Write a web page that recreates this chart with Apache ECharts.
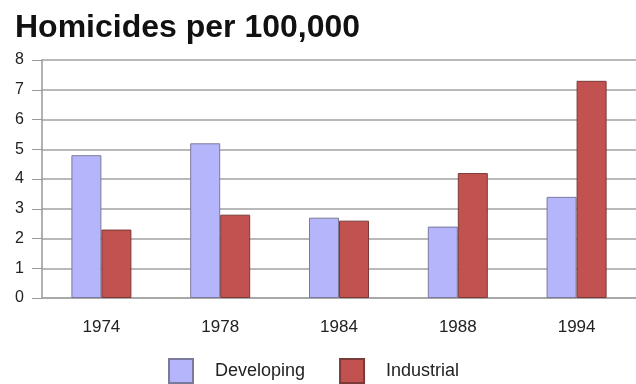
<!DOCTYPE html>
<html>
<head>
<meta charset="utf-8">
<script src="https://cdn.jsdelivr.net/npm/echarts@6/dist/echarts.min.js"></script>
<style>
  html, body { margin: 0; padding: 0; background: #ffffff; }
  #chart { width: 636px; height: 384px; }
</style>
</head>
<body>
<div id="chart"></div>
<script>
// Homicide rates per 100,000 people, by survey year
var years = ['1974', '1978', '1984', '1988', '1994'];
var developing = [4.8, 5.2, 2.7, 2.4, 3.4];
var industrial = [2.3, 2.8, 2.6, 4.2, 7.3];
var yTicks = { min: 0, max: 8, interval: 1 };

var font = '"Liberation Sans", Arial, sans-serif';
var gridGray = '#a2a2a2';

var chart = echarts.init(document.getElementById('chart'), null, { renderer: 'canvas' });
chart.setOption({
  animation: false,
  backgroundColor: '#ffffff',
  title: {
    text: 'Homicides per 100,000',
    left: 10,
    top: 7,
    textStyle: { fontFamily: font, fontSize: 32, fontWeight: 'bold', color: '#111111' }
  },
  legend: {
    data: ['Developing', 'Industrial'],
    left: 168,
    top: 358,
    padding: 0,
    itemWidth: 24,
    itemHeight: 24,
    itemGap: 34,
    icon: 'rect',
    textStyle: { fontFamily: font, fontSize: 18, color: '#222222', padding: [0, 0, 0, 17] }
  },
  grid: { left: 42, top: 60, width: 597, height: 238 },
  xAxis: {
    type: 'category',
    data: years,
    axisLine: { lineStyle: { color: gridGray, width: 1.5 } },
    axisTick: { alignWithLabel: true, length: 10, lineStyle: { color: '#888888' } },
    axisLabel: { fontFamily: font, fontSize: 17, color: '#222222', margin: 21 }
  },
  yAxis: {
    type: 'value',
    min: yTicks.min,
    max: yTicks.max,
    interval: yTicks.interval,
    axisLine: { show: true, lineStyle: { color: '#999999', width: 1.5 } },
    axisTick: { show: true, length: 10, lineStyle: { color: '#999999' } },
    axisLabel: { fontFamily: font, fontSize: 16, color: '#222222', margin: 18 },
    splitLine: { lineStyle: { color: gridGray, width: 1.5 } }
  },
  series: [
    {
      name: 'Developing',
      type: 'bar',
      data: developing,
      barWidth: 30,
      barGap: '0%',
      itemStyle: { color: '#b5b5fb', borderColor: '#7a7a9a', borderWidth: 1 }
    },
    {
      name: 'Industrial',
      type: 'bar',
      data: industrial,
      barWidth: 30,
      itemStyle: { color: '#c2524f', borderColor: '#7a3a38', borderWidth: 1 }
    }
  ]
});
</script>
</body>
</html>
